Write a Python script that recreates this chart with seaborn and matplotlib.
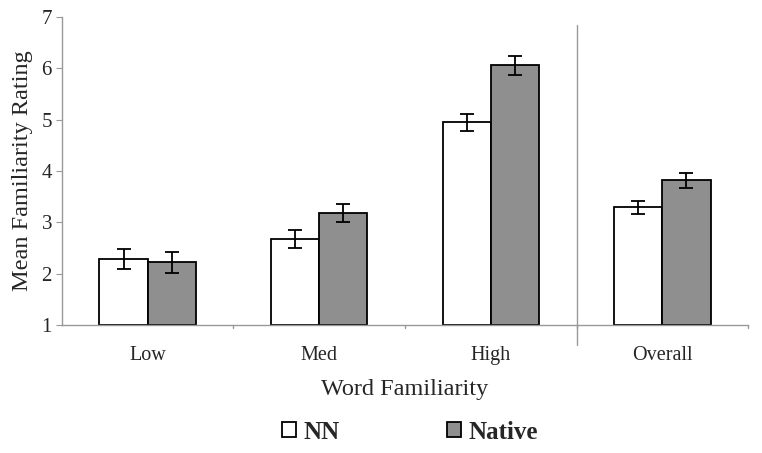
import matplotlib
matplotlib.use("Agg")
import matplotlib.pyplot as plt
import seaborn as sns
import pandas as pd

categories = ["Low", "Med", "High", "Overall"]
groups = ["NN", "Native"]
nn_means = [2.28, 2.67, 4.95, 3.29]
native_means = [2.22, 3.18, 6.06, 3.82]
nn_err = [0.19, 0.17, 0.17, 0.13]
native_err = [0.20, 0.18, 0.18, 0.15]

df = pd.DataFrame({
    "cat": categories * 2,
    "group": ["NN"] * 4 + ["Native"] * 4,
    "mean": nn_means + native_means,
    "err": nn_err + native_err,
})

sns.set_style("white")
plt.rcParams["font.family"] = ["Liberation Serif", "DejaVu Serif"]

fig = plt.figure(figsize=(7.62, 4.53), dpi=100)
ax = fig.add_axes([0.081, 0.283, 0.901, 0.679])

sns.barplot(data=df, x="cat", y="mean", hue="group", order=categories,
            hue_order=groups, palette={"NN": "white", "Native": "#8f8f8f"},
            edgecolor="black", linewidth=1.3, width=0.56, errorbar=None,
            ax=ax, legend=False)

# bars start at 1, so redraw heights from the baseline
for p in ax.patches:
    h = p.get_height()
    p.set_y(1)
    p.set_height(h - 1)

# error bars on the bar centres
for i, g in enumerate(groups):
    sub = df[df["group"] == g]
    off = (i - 0.5) * 0.28
    xs = [k + off for k in range(len(categories))]
    ax.errorbar(xs, sub["mean"], yerr=sub["err"], fmt="none", ecolor="black",
                elinewidth=1.3, capsize=5, capthick=1.3, zorder=5)

ax.set_ylim(1, 7)
ax.set_xlim(-0.5, 3.5)
ax.set_yticks(range(1, 8))
ax.tick_params(axis="y", labelsize=15, length=4, color="#999999", direction="out", left=True, pad=3)
ax.set_xticks(range(4))
ax.set_xticklabels(categories, fontsize=14.5)
ax.tick_params(axis="x", length=0, pad=15)
for b in [0.5, 1.5, 2.5, 3.5]:
    ax.plot([b, b], [1, 0.94], color="#999999", lw=1, clip_on=False)

sns.despine(ax=ax)
for s in ["left", "bottom"]:
    ax.spines[s].set_color("#999999")
    ax.spines[s].set_linewidth(1)

# divider between High and Overall
ax.plot([2.5, 2.5], [0.61, 6.84], color="#999999", lw=1, clip_on=False)

ax.set_ylabel("Mean Familiarity Rating", fontsize=17.5, labelpad=6)
ax.set_xlabel("Word Familiarity", fontsize=17.5, labelpad=10)

handles = [plt.Rectangle((0, 0), 1, 1, facecolor="white", edgecolor="black", lw=1.3),
           plt.Rectangle((0, 0), 1, 1, facecolor="#8f8f8f", edgecolor="black", lw=1.3)]
fig.legend(handles, groups, loc="center", bbox_to_anchor=(0.538, 0.046), ncol=2,
           frameon=False, prop={"size": 18, "weight": "bold"}, handlelength=0.55,
           handleheight=0.55, handletextpad=0.3, columnspacing=4.3)

fig.savefig("out.png", dpi=100)
